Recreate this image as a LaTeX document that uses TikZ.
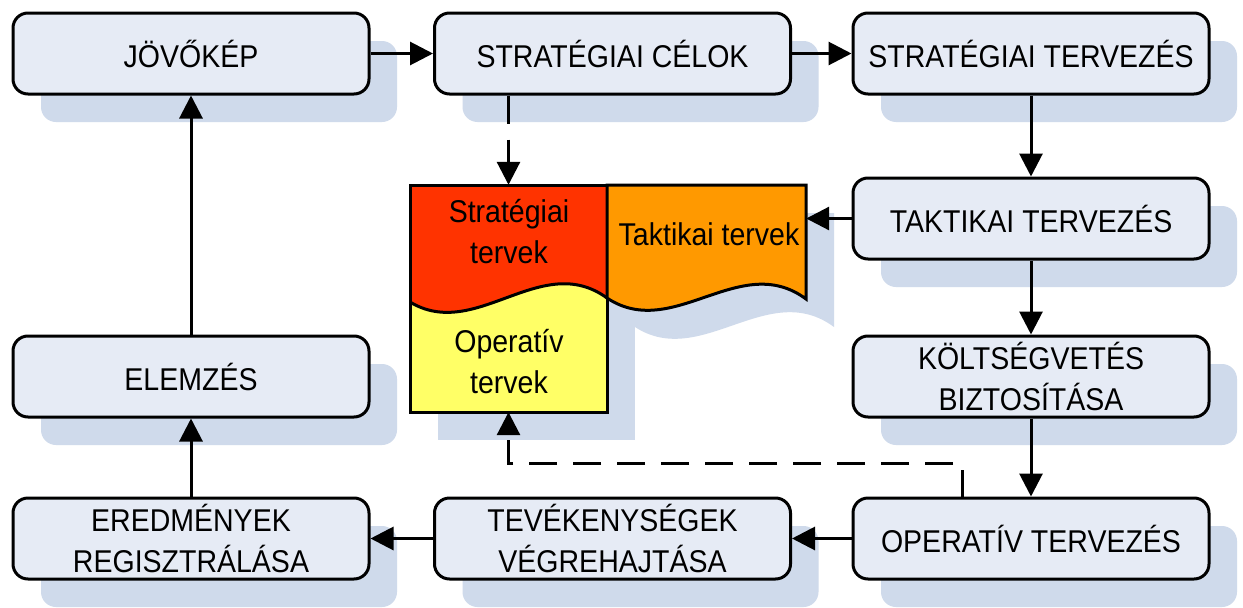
\documentclass[tikz,border=0pt]{standalone}
\usepackage{fontspec}
\setmainfont{Liberation Sans}
\newfontfamily\narrowfont[FakeStretch=0.905]{Liberation Sans}
\usetikzlibrary{arrows.meta,shadows}
\definecolor{boxfill}{HTML}{E6EBF5}
\definecolor{shad}{HTML}{CFDAEB}
\definecolor{stratred}{HTML}{FF3300}
\definecolor{taktorange}{HTML}{FF9900}
\definecolor{opyellow}{HTML}{FFFF66}
\begin{document}
\begin{tikzpicture}[x=1pt,y=-1pt,
  box/.style={draw=black, line width=3pt, rounded corners=15pt, fill=boxfill,
    minimum width=356pt, minimum height=81pt, inner sep=0pt, align=center,
    font=\narrowfont\fontsize{31.5}{41}\selectfont,
    drop shadow={shadow xshift=28pt, shadow yshift=-28pt, fill=shad, opacity=1}},
  doctext/.style={align=center, inner sep=0pt, font=\narrowfont\fontsize{31.5}{41}\selectfont},
  anchorbox/.style={inner sep=0pt, draw=none, fill=none},
  arr/.style={line width=3pt, -{Triangle[length=23pt,width=23pt]}},
  dasharr/.style={line width=3pt, dash pattern=on 28pt off 16pt, -{Triangle[length=23pt,width=23pt,sep=0pt]}},
  docline/.style={line width=3pt, draw=black}
]
\useasboundingbox (0,0) rectangle (1243,608);
\fill[white] (0,0) rectangle (1243,608);

% process boxes
\node[box] (jov)   at (191,53.5)    {JÖVŐKÉP};
\node[box] (scel)  at (612.5,53.5)  {STRATÉGIAI CÉLOK};
\node[box] (sterv) at (1031,53.5)   {STRATÉGIAI TERVEZÉS};
\node[box] (takt)  at (1031,218.5)  {TAKTIKAI TERVEZÉS};
\node[box] (kolt)  at (1031,376.5)  {KÖLTSÉGVETÉS\\BIZTOSÍTÁSA};
\node[box] (oper)  at (1031,538.5)  {OPERATÍV TERVEZÉS};
\node[box] (tev)   at (612.5,538.5) {TEVÉKENYSÉGEK\\VÉGREHAJTÁSA};
\node[box] (ered)  at (191,538.5)   {EREDMÉNYEK\\REGISZTRÁLÁSA};
\node[box] (elem)  at (191,376.5)   {ELEMZÉS};

% document shadows
\fill[shad] (438,213) rectangle (635,440);
\fill[shad] (635,213) -- (834,213) -- (834,327) .. controls (768,278) and (701,370) .. (635,327) -- cycle;

% left document block (strategic / operative)
\fill[opyellow] (410,185) rectangle (607,412);
\fill[stratred] (410,185) -- (607,185) -- (607,298) .. controls (541,250) and (476,342) .. (410,302) -- cycle;
\draw[docline] (410,302) .. controls (476,342) and (541,250) .. (607,298);
\draw[docline] (410,185) rectangle (607,412);
% tactical document
\filldraw[docline, fill=taktorange] (607,185) -- (806,185) -- (806,299) .. controls (740,250) and (673,342) .. (607,298) -- cycle;

% anchor boxes for the documents
\node[anchorbox, minimum width=197pt, minimum height=227pt] (docL) at (508.5,298.5) {};
\node[anchorbox, minimum width=199pt, minimum height=114pt] (docR) at (706.5,242) {};

\node[doctext] (tstrat) at (509,232) {Stratégiai\\tervek};
\node[doctext] (toper)  at (509,362) {Operatív\\tervek};
\node[doctext] (ttakt)  at (709,234) {Taktikai tervek};

% connectors
\draw[arr] (jov) -- (scel);
\draw[arr] (scel) -- (sterv);
\draw[arr] (sterv) -- (takt);
\draw[arr] (takt) -- (kolt);
\draw[arr] (kolt) -- (oper);
\draw[arr] (oper) -- (tev);
\draw[arr] (tev) -- (ered);
\draw[arr] (ered) -- (elem);
\draw[arr] (elem) -- (jov);
\draw[arr] (takt.west) -- (takt.west -| docR.east);
\draw[dasharr] (docL.north |- scel.south) -- (docL.north);
\coordinate (opd) at (962,498);
\draw[dasharr] (opd) -- (962,463) -| (docL.south);
\end{tikzpicture}
\end{document}
